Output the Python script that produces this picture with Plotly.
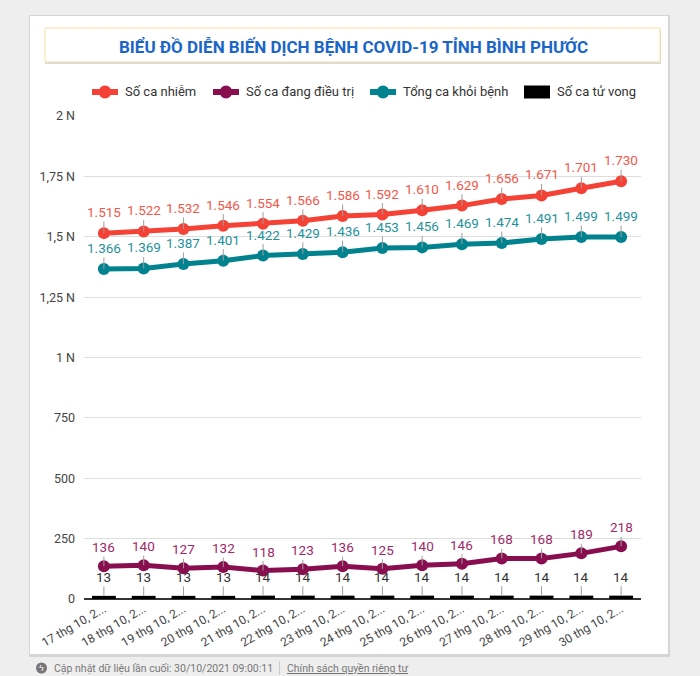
import plotly.graph_objects as go

dates = ["17 thg 10, 2...", "18 thg 10, 2...", "19 thg 10, 2...", "20 thg 10, 2...",
         "21 thg 10, 2...", "22 thg 10, 2...", "23 thg 10, 2...", "24 thg 10, 2...",
         "25 thg 10, 2...", "26 thg 10, 2...", "27 thg 10, 2...", "28 thg 10, 2...",
         "29 thg 10, 2...", "30 thg 10, 2..."]
infected = [1515, 1522, 1532, 1546, 1554, 1566, 1586, 1592, 1610, 1629, 1656, 1671, 1701, 1730]
treating = [136, 140, 127, 132, 118, 123, 136, 125, 140, 146, 168, 168, 189, 218]
recovered = [1366, 1369, 1387, 1401, 1422, 1429, 1436, 1453, 1456, 1469, 1474, 1491, 1499, 1499]
deaths = [13, 13, 13, 13, 14, 14, 14, 14, 14, 14, 14, 14, 14, 14]
series_names = ["Số ca nhiễm", "Số ca đang điều trị", "Tổng ca khỏi bệnh", "Số ca tử vong"]
y_tickvals = [0, 250, 500, 750, 1000, 1250, 1500, 1750, 2000]
y_ticktext = ["0", "250", "500", "750", "1 N", "1,25 N", "1,5 N", "1,75 N", "2 N"]

W, H = 700, 676
L, R, T, B = 84, 641, 116, 599


def px(x):
    return (x - L) / (R - L)


def py(y):
    return (B - y) / (B - T)


def vn(n):
    return f"{n:,}".replace(",", ".")


FONT = "Roboto, Arial, sans-serif"
C_RED, C_RED_T = "#f44336", "#f4584b"
C_MAR, C_MAR_T = "#880e4f", "#a02a68"
C_TEAL, C_TEAL_T = "#00838f", "#1f929b"
C_BLACK = "#000000"

fig = go.Figure()
fig.add_trace(go.Scatter(x=dates, y=infected, name=series_names[0], mode="lines+markers",
                         line=dict(color=C_RED, width=5), marker=dict(size=12, color=C_RED)))
fig.add_trace(go.Scatter(x=dates, y=treating, name=series_names[1], mode="lines+markers",
                         line=dict(color=C_MAR, width=5), marker=dict(size=12, color=C_MAR)))
fig.add_trace(go.Scatter(x=dates, y=recovered, name=series_names[2], mode="lines+markers",
                         line=dict(color=C_TEAL, width=5), marker=dict(size=12, color=C_TEAL)))
fig.add_trace(go.Bar(x=dates, y=deaths, name=series_names[3],
                     marker=dict(color=C_BLACK, line_width=0), width=0.6))

annotations = []
shapes = []


def add_labels(vals, color, ay, size=13.5):
    for d, v in zip(dates, vals):
        annotations.append(dict(x=d, y=v, xref="x", yref="y", text=vn(v), showarrow=True,
                                arrowhead=0, arrowwidth=1, arrowcolor="#9e9e9e", ax=0, ay=ay,
                                standoff=0, font=dict(family=FONT, size=size, color=color)))


add_labels(infected, C_RED_T, -21)
add_labels(recovered, C_TEAL_T, -21)
add_labels(treating, C_MAR_T, -19)
add_labels(deaths, "#333333", -19)

# Title
annotations.append(dict(x=px(353), y=py(46), xref="paper", yref="paper", showarrow=False,
                        text="<b>BIỂU ĐỒ DIỄN BIẾN DỊCH BỆNH COVID-19 TỈNH BÌNH PHƯỚC</b>",
                        font=dict(family=FONT, size=17, color="#1a66c8"),
                        xanchor="center", yanchor="middle"))

# Legend (drawn manually to match the original layout)
legend_items = [(series_names[0], C_RED, 92, "line"), (series_names[1], C_MAR, 213, "line"),
                (series_names[2], C_TEAL, 370, "line"), (series_names[3], C_BLACK, 524, "box")]
LY = 92
for name, col, x0, kind in legend_items:
    if kind == "line":
        shapes.append(dict(type="rect", xref="paper", yref="paper", x0=px(x0), x1=px(x0 + 26),
                           y0=py(LY + 3), y1=py(LY - 3), fillcolor=col, line_width=0, layer="above"))
        shapes.append(dict(type="circle", xref="paper", yref="paper", x0=px(x0 + 6.5), x1=px(x0 + 19.5),
                           y0=py(LY + 6.5), y1=py(LY - 6.5), fillcolor=col, line_width=0, layer="above"))
    else:
        shapes.append(dict(type="rect", xref="paper", yref="paper", x0=px(x0), x1=px(x0 + 26),
                           y0=py(LY + 6.5), y1=py(LY - 6.5), fillcolor=col, line_width=0, layer="above"))
    annotations.append(dict(x=px(x0 + 30.5), y=py(LY), xref="paper", yref="paper", showarrow=False,
                            text=name, font=dict(family=FONT, size=13, color="#333333"),
                            xanchor="left", yanchor="middle"))

# Footer
FY = 668
annotations.append(dict(x=px(52), y=py(FY), xref="paper", yref="paper", showarrow=False,
                        text="Cập nhật dữ liệu lần cuối: 30/10/2021 09:00:11",
                        font=dict(family=FONT, size=10.5, color="#777777"),
                        xanchor="left", yanchor="middle"))
annotations.append(dict(x=px(285), y=py(FY), xref="paper", yref="paper", showarrow=False,
                        text="<u>Chính sách quyền riêng tư</u>",
                        font=dict(family=FONT, size=10.5, color="#777777"),
                        xanchor="left", yanchor="middle"))
annotations.append(dict(x=px(41.5), y=py(FY), xref="paper", yref="paper", showarrow=False,
                        text="ϟ", font=dict(family=FONT, size=9, color="#ffffff"),
                        xanchor="center", yanchor="middle"))

shapes += [
    # card shadow + card
    dict(type="rect", xref="paper", yref="paper", x0=px(29), x1=px(670), y0=py(657), y1=py(15),
         fillcolor="rgba(0,0,0,0.10)", line_width=0, layer="below"),
    dict(type="rect", xref="paper", yref="paper", x0=px(30), x1=px(668), y0=py(654), y1=py(16),
         fillcolor="#ffffff", line_width=0, layer="below"),
    # title box shadow + box
    dict(type="rect", xref="paper", yref="paper", x0=px(45), x1=px(661), y0=py(64), y1=py(29),
         fillcolor="rgba(0,0,0,0.15)", line_width=0, layer="below"),
    dict(type="rect", xref="paper", yref="paper", x0=px(45), x1=px(660), y0=py(62), y1=py(28),
         fillcolor="#ffffff", line=dict(color="#f3e3a6", width=1), layer="below"),
    # footer icon + separator
    dict(type="circle", xref="paper", yref="paper", x0=px(36), x1=px(47), y0=py(FY + 5.5), y1=py(FY - 5.5),
         fillcolor="#757575", line_width=0, layer="above"),
    dict(type="line", xref="paper", yref="paper", x0=px(279.5), x1=px(279.5), y0=py(FY + 7), y1=py(FY - 7),
         line=dict(color="#cccccc", width=1), layer="above"),
]

fig.update_layout(
    width=W, height=H,
    margin=dict(l=L, r=W - R, t=T, b=H - B, pad=0),
    paper_bgcolor="#eeeeee", plot_bgcolor="rgba(0,0,0,0)",
    font=dict(family=FONT, size=12, color="#444444"),
    showlegend=False,
    xaxis=dict(type="category", range=[-0.5, len(dates) - 0.5], tickangle=-30,
               showgrid=False, zeroline=False,
               tickfont=dict(family=FONT, size=12, color="#444444"), ticks="",
               showline=False, automargin=False),
    yaxis=dict(range=[0, 2000], tickvals=y_tickvals, ticktext=y_ticktext,
               showgrid=True, gridcolor="#dddddd", gridwidth=1,
               zeroline=True, zerolinecolor="#333333", zerolinewidth=2,
               tickfont=dict(family=FONT, size=12.5, color="#444444"), ticks="",
               ticklabelstandoff=8, automargin=False),
    annotations=annotations,
    shapes=shapes,
    hovermode=False,
)

fig.write_html("out.html", config={"displayModeBar": False},
               post_script="document.body.style.margin='0';document.body.style.background='#eeeeee';")
